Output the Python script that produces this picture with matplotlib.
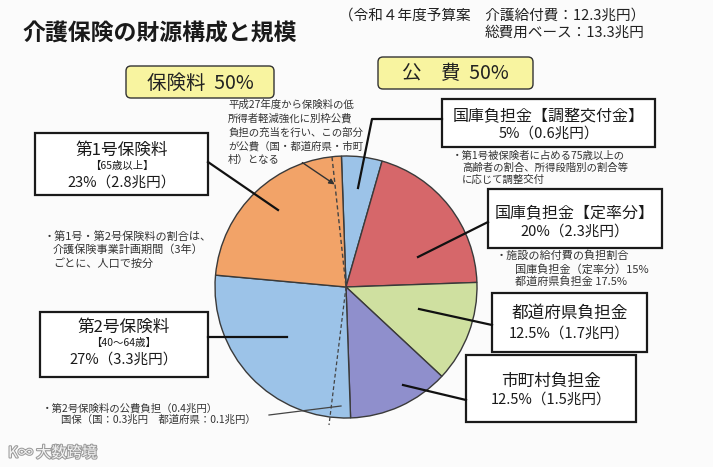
import matplotlib
matplotlib.use("Agg")
import matplotlib.pyplot as plt
from matplotlib.patches import FancyBboxPatch, Rectangle
import matplotlib.patheffects as pe

plt.rcParams['font.family'] = ['Noto Sans CJK JP', 'DejaVu Sans']

# data (clockwise from top)
labels = ["国庫負担金【調整交付金】", "国庫負担金【定率分】", "都道府県負担金",
          "市町村負担金", "第2号保険料", "第1号保険料"]
shares = [5, 20, 12.5, 12.5, 27, 23]
amounts = ["0.6兆円", "2.3兆円", "1.7兆円", "1.5兆円", "3.3兆円", "2.8兆円"]
colors = ["#9cc3e8", "#d6676a", "#cfe0a0", "#8f8fcc", "#9cc3e8", "#f2a368"]

W, H = 713, 467
fig = plt.figure(figsize=(W / 100, H / 100), dpi=100)
fig.patch.set_facecolor("#fbfbfb")

# pie, centre (346, 287) px, radius 131 px
cx, cy, r = 346, 287, 131
pax = fig.add_axes([(cx - r) / W, (H - cy - r) / H, 2 * r / W, 2 * r / H])
pax.pie(shares, colors=colors, startangle=92, counterclock=False,
        wedgeprops=dict(edgecolor="#3a3a3a", linewidth=1.0))
pax.set_xlim(-1, 1)
pax.set_ylim(-1, 1)
pax.axis("off")

# overlay in pixel coords
ax = fig.add_axes([0, 0, 1, 1], zorder=5)
ax.set_xlim(0, W)
ax.set_ylim(H, 0)
ax.axis("off")
ax.patch.set_alpha(0)

# title
ax.text(160, 34, "介護保険の財源構成と規模", fontsize=16.5, fontweight="bold",
        ha="center", va="center", color="#1a1a1a")
ax.text(645, 16, "（令和４年度予算案　介護給付費：12.3兆円）", fontsize=10.5,
        ha="right", va="center", color="#222222")
ax.text(644, 33, "総費用ベース：13.3兆円", fontsize=10.5,
        ha="right", va="center", color="#222222")

# yellow headers
def yellow(x0, y0, x1, y1, txt):
    ax.add_patch(FancyBboxPatch((x0, y0), x1 - x0, y1 - y0,
                                boxstyle="round,pad=0,rounding_size=5",
                                fc="#f8f4a0", ec="#333333", lw=1.0))
    ax.text((x0 + x1) / 2, (y0 + y1) / 2 + 1, txt, fontsize=14,
            ha="center", va="center", color="#222222")

yellow(126, 66, 274, 98, "保険料  50%")
yellow(378, 57, 533, 89, "公　費  50%")

def box(x0, y0, x1, y1, lines):
    ax.add_patch(Rectangle((x0, y0), x1 - x0, y1 - y0, fc="white",
                           ec="#1a1a1a", lw=1.6))
    for txt, yy, fs in lines:
        ax.text((x0 + x1) / 2, yy, txt, fontsize=fs, ha="center",
                va="center", color="#1a1a1a")

def pct(i):
    return f"{shares[i]:g}%（{amounts[i]}）"

box(35, 133, 208, 195, [(labels[5], 150, 12), ("【65歳以上】", 166, 7.5),
                        (pct(5), 183, 10.5)])
box(40, 312, 208, 377, [(labels[4], 327, 12), ("【40〜64歳】", 343, 7.5),
                        (pct(4), 360, 10.5)])
box(442, 99, 655, 147, [(labels[0], 117, 11.5), (pct(0), 134, 10.5)])
box(488, 189, 662, 248, [(labels[1], 213, 11.5), (pct(1), 232, 10.5)])
box(492, 293, 647, 352, [(labels[2], 313, 12), (pct(2), 334, 10.5)])
box(466, 355, 636, 422, [(labels[3], 381, 12), (pct(3), 400, 10.5)])

# leader lines
lk = dict(color="#111111", lw=1.6)
ax.plot([208, 278], [162, 210], **lk)
ax.plot([442, 372, 358], [119, 119, 188], **lk)
ax.plot([488, 418], [222, 257], **lk)
ax.plot([492, 419], [325, 309], **lk)
ax.plot([466, 403], [400, 385], **lk)
ax.plot([208, 287], [337, 337], **lk)

# dashed line for low-income reduction portion
ax.plot([332, 346], [157, 287], color="#444444", lw=1.0, ls=(0, (3, 2)))
ax.plot([346, 329], [287, 425], color="#444444", lw=0.9, ls=(0, (3, 2)))
ax.annotate("", xy=(337, 186), xytext=(300, 161),
            arrowprops=dict(arrowstyle="-|>", color="#333333", lw=1.0,
                            mutation_scale=8))
ax.plot([269, 341], [415, 406], color="#444444", lw=0.9)

# notes
nc = "#333333"
note_top = ["平成27年度から保険料の低", "所得者軽減強化に別枠公費",
            "負担の充当を行い、この部分", "が公費（国・都道府県・市町",
            "村）となる"]
for i, t in enumerate(note_top):
    ax.text(228, 105 + i * 13.7, t, fontsize=7.5, ha="left", va="center", color=nc)

ax.text(44, 237, "・第1号・第2号保険料の割合は、", fontsize=8, ha="left", va="center", color=nc)
ax.text(53, 250, "介護保険事業計画期間（3年）", fontsize=8, ha="left", va="center", color=nc)
ax.text(53, 263, "ごとに、人口で按分", fontsize=8, ha="left", va="center", color=nc)

ax.text(452, 156, "・第1号被保険者に占める75歳以上の", fontsize=7.5, ha="left", va="center", color=nc)
ax.text(462, 168, "高齢者の割合、所得段階別の割合等", fontsize=7.5, ha="left", va="center", color=nc)
ax.text(462, 180, "に応じて調整交付", fontsize=7.5, ha="left", va="center", color=nc)

ax.text(496, 256, "・施設の給付費の負担割合", fontsize=8, ha="left", va="center", color=nc)
ax.text(515, 269, "国庫負担金（定率分）15%", fontsize=8, ha="left", va="center", color=nc)
ax.text(515, 282, "都道府県負担金 17.5%", fontsize=8, ha="left", va="center", color=nc)

ax.text(42, 408, "・第2号保険料の公費負担（0.4兆円）", fontsize=7.5, ha="left", va="center", color=nc)
ax.text(61, 420, "国保（国：0.3兆円　都道府県：0.1兆円）", fontsize=7.5, ha="left", va="center", color=nc)

# watermark
ax.text(36, 453, "大数跨境", fontsize=11, ha="left", va="center", color="#f4f4f4",
        path_effects=[pe.withStroke(linewidth=1.5, foreground="#9a9a9a")])
ax.text(8, 453, "K∞", fontsize=11, ha="left", va="center", color="#f4f4f4",
        path_effects=[pe.withStroke(linewidth=1.5, foreground="#9a9a9a")])

fig.savefig("out.png", dpi=100, facecolor=fig.get_facecolor())
